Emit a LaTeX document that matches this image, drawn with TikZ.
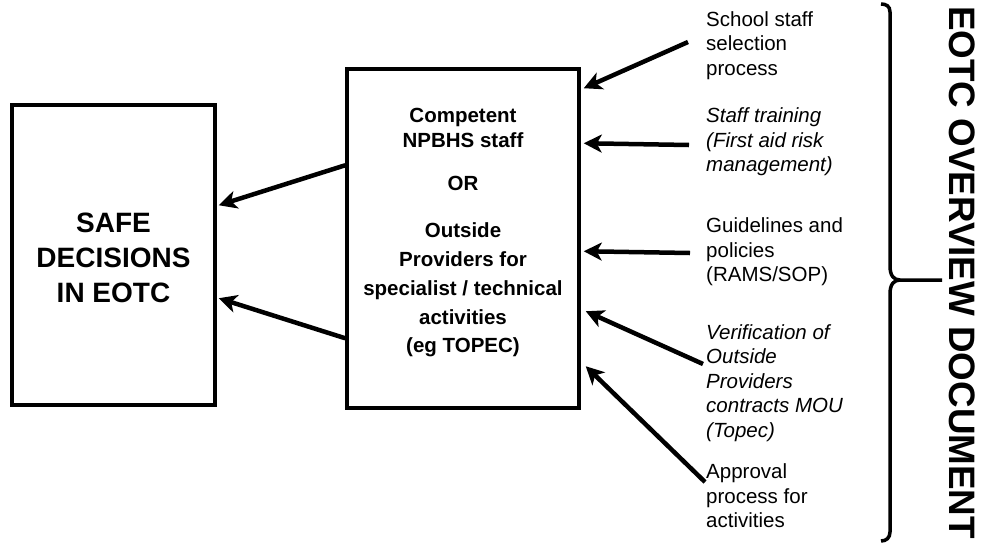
\documentclass[tikz,border=0pt]{standalone}
\usepackage{fontspec}
\setmainfont{Liberation Sans}
\usetikzlibrary{arrows.meta,calc}
\begin{document}
\begin{tikzpicture}[x=1pt,y=-1pt,
  box/.style={draw, line width=3.5pt, inner sep=0pt},
  arr/.style={line width=4.5pt, -{Stealth[length=18pt,width=18pt,inset=5pt]}},
  side/.style={anchor=west, align=left, inner sep=0pt, font=\fontsize{20.5}{24.5}\selectfont},
  midtxt/.style={align=center, inner sep=0pt}]
\useasboundingbox (0,0) rectangle (982,544);
% left box
\node[box, minimum width=203pt, minimum height=300pt] (safe) at (113.5,255) {};
\node[align=center, inner sep=0pt, font=\bfseries\fontsize{28}{35}\selectfont] (safetxt) at (113.5,258) {SAFE\\DECISIONS\\IN EOTC};
% middle box
\node[box, minimum width=232pt, minimum height=339pt] (mid) at (463,238.5) {};
\node[midtxt, font=\bfseries\fontsize{20.5}{25}\selectfont] (t1) at (463,128) {Competent\\NPBHS staff};
\node[midtxt, font=\bfseries\fontsize{20.5}{25}\selectfont] (t2) at (463,183) {OR};
\node[midtxt, font=\bfseries\fontsize{20.5}{28.75}\selectfont] (t3) at (463,290) {Outside\\Providers for\\specialist / technical\\activities\\(eg TOPEC)};
% right side texts
\node[side] (s1) at (706,45.5) {School staff\\selection\\process};
\node[side, font=\itshape\fontsize{20.5}{24.5}\selectfont] (s2) at (706,142) {Staff training\\(First aid risk\\management)};
\node[side] (s3) at (706,252) {Guidelines and\\policies\\(RAMS/SOP)};
\node[side, font=\itshape\fontsize{20.5}{24.5}\selectfont] (s4) at (706,383) {Verification of\\Outside\\Providers\\contracts MOU\\(Topec)};
\node[side] (s5) at (706,496) {Approval\\process for\\activities};
% arrows into middle box
\draw[arr] ($(s1.west)+(-18,-3.5)$) -- ($(mid.north east)+(3,21)$);
\draw[arr] ($(s2.west)+(-17,3)$) -- ($(mid.north east)+(3,76)$);
\draw[arr] ($(s3.west)+(-16,1)$) -- ($(mid.north east)+(3,184)$);
\draw[arr] ($(s4.west)+(-3,-19)$) -- ($(mid.north east)+(5,244)$);
\draw[arr] ($(s5.west)+(-1,-14)$) -- ($(mid.north east)+(5,299)$);
% arrows into left box
\draw[arr] ($(mid.north west)+(0,98)$) -- ($(safe.north east)+(2,102)$);
\draw[arr] ($(mid.north west)+(0,271)$) -- ($(safe.north east)+(2,195)$);
% brace
\draw[line width=3.5pt] (881,4) .. controls (886,4) and (890,6) .. (890,12) -- (890,266)
  .. controls (890,276) and (894,280) .. (900,280) -- (942,280);
\draw[line width=3.5pt] (900,280) .. controls (894,280) and (890,284) .. (890,294) -- (890,532)
  .. controls (890,538) and (886,541) .. (881,541);
% vertical title
\node[rotate=-90, inner sep=0pt, font=\bfseries\fontsize{36.8}{40}\selectfont] (title) at (962,272.5) {EOTC OVERVIEW DOCUMENT};
\end{tikzpicture}
\end{document}
